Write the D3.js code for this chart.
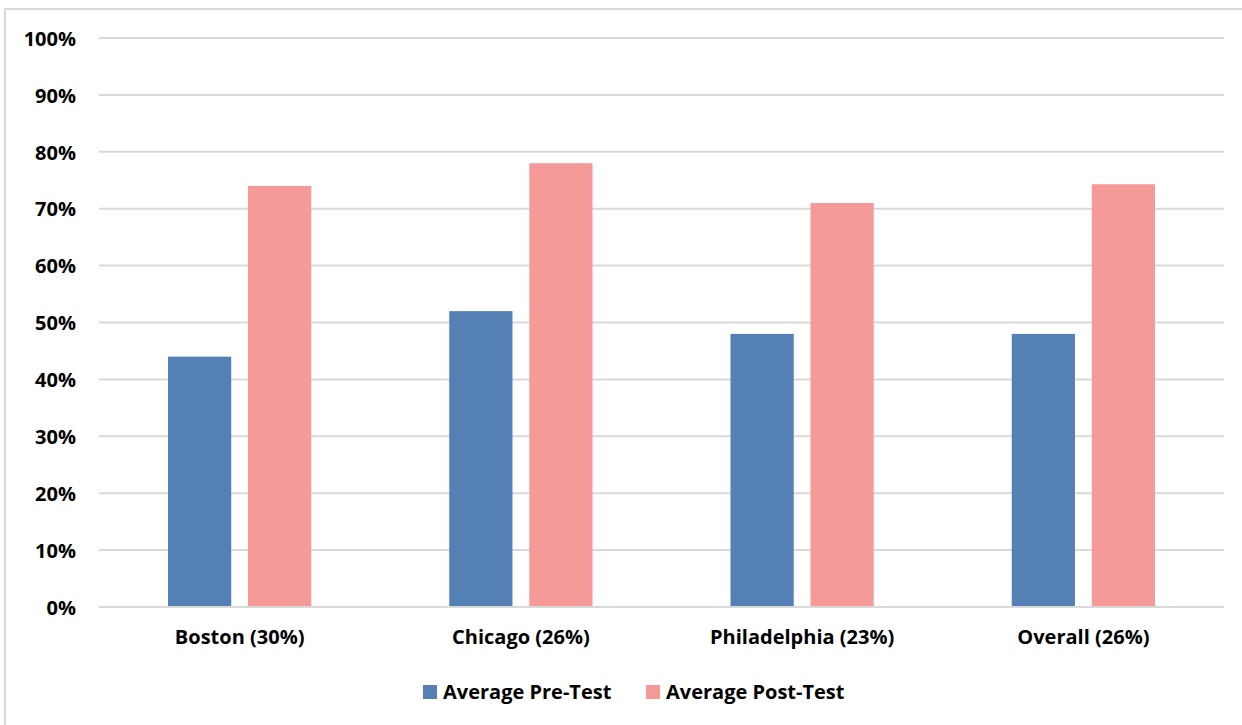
<!DOCTYPE html>
<html>
<head>
<meta charset="utf-8">
<script src="https://cdn.jsdelivr.net/npm/d3@7"></script>
<style>
  html, body { margin: 0; padding: 0; background: #ffffff; }
  svg { display: block; }
  text { font-family: "Open Sans", "Noto Sans", sans-serif; font-weight: 700; fill: #000; }
</style>
</head>
<body>
<svg id="chart" width="1242" height="725"></svg>
<script>
// Test score averages by city
const categories = ["Boston (30%)", "Chicago (26%)", "Philadelphia (23%)", "Overall (26%)"];
const seriesNames = ["Average Pre-Test", "Average Post-Test"];
const preTest = [44, 52, 48, 48];
const postTest = [74, 78, 71, 74.3];
const yTicks = [0, 10, 20, 30, 40, 50, 60, 70, 80, 90, 100];
const colors = ["#5580b6", "#f69999"];

const svg = d3.select("#chart");
const W = 1242, H = 725;
const margin = { left: 99, right: 18, top: 38, bottom: 118 };
const fontSize = "20px";

// Outer chart frame
svg.append("rect")
  .attr("x", 5).attr("y", 9)
  .attr("width", W + 10).attr("height", H + 10)
  .attr("fill", "#fff").attr("stroke", "#d9d9d9").attr("stroke-width", 2);

const x0 = d3.scaleBand()
  .domain(categories)
  .range([margin.left, W - margin.right])
  .paddingInner(0).paddingOuter(0);

const x1 = d3.scaleBand()
  .domain(seriesNames)
  .range([69, x0.bandwidth() - 69])
  .paddingInner(0.21);

const y = d3.scaleLinear().domain([0, 100]).range([H - margin.bottom, margin.top]);

// Horizontal gridlines
svg.append("g")
  .selectAll("line")
  .data(yTicks)
  .join("line")
  .attr("x1", margin.left).attr("x2", W - margin.right)
  .attr("y1", d => y(d)).attr("y2", d => y(d))
  .attr("stroke", "#d9d9d9").attr("stroke-width", 2);

// Y axis labels
const yAxis = d3.axisLeft(y).tickValues(yTicks).tickFormat(d => d + "%").tickSize(0).tickPadding(23);
const gy = svg.append("g").attr("transform", `translate(${margin.left},0)`).call(yAxis);
gy.select(".domain").remove();
gy.selectAll("text").style("font-size", fontSize).style("font-family", null).attr("dy", "0.36em");

// Bars
const rows = categories.map((c, i) => ({ cat: c, vals: [preTest[i], postTest[i]] }));
const groups = svg.append("g").selectAll("g")
  .data(rows)
  .join("g")
  .attr("transform", d => `translate(${x0(d.cat)},0)`);

groups.selectAll("rect")
  .data(d => d.vals.map((v, j) => ({ name: seriesNames[j], v, j })))
  .join("rect")
  .attr("x", d => x1(d.name))
  .attr("width", x1.bandwidth())
  .attr("y", d => y(d.v))
  .attr("height", d => y(0) - y(d.v) - 1)
  .attr("fill", d => colors[d.j]);

// X axis labels
const xAxis = d3.axisBottom(x0).tickSize(0).tickPadding(23);
const gx = svg.append("g").attr("transform", `translate(0,${y(0)})`).call(xAxis);
gx.select(".domain").remove();
gx.selectAll("text").style("font-size", fontSize).style("font-family", null);

// Legend
const legendItems = [{ name: seriesNames[0], x: 423 }, { name: seriesNames[1], x: 646 }];
const lg = svg.append("g").selectAll("g")
  .data(legendItems)
  .join("g")
  .attr("transform", d => `translate(${d.x},685)`);
lg.append("rect").attr("width", 14).attr("height", 14).attr("fill", (d, i) => colors[i]);
lg.append("text").attr("x", 20).attr("y", 7).attr("dy", "0.36em")
  .style("font-size", fontSize).text(d => d.name);
</script>
</body>
</html>
